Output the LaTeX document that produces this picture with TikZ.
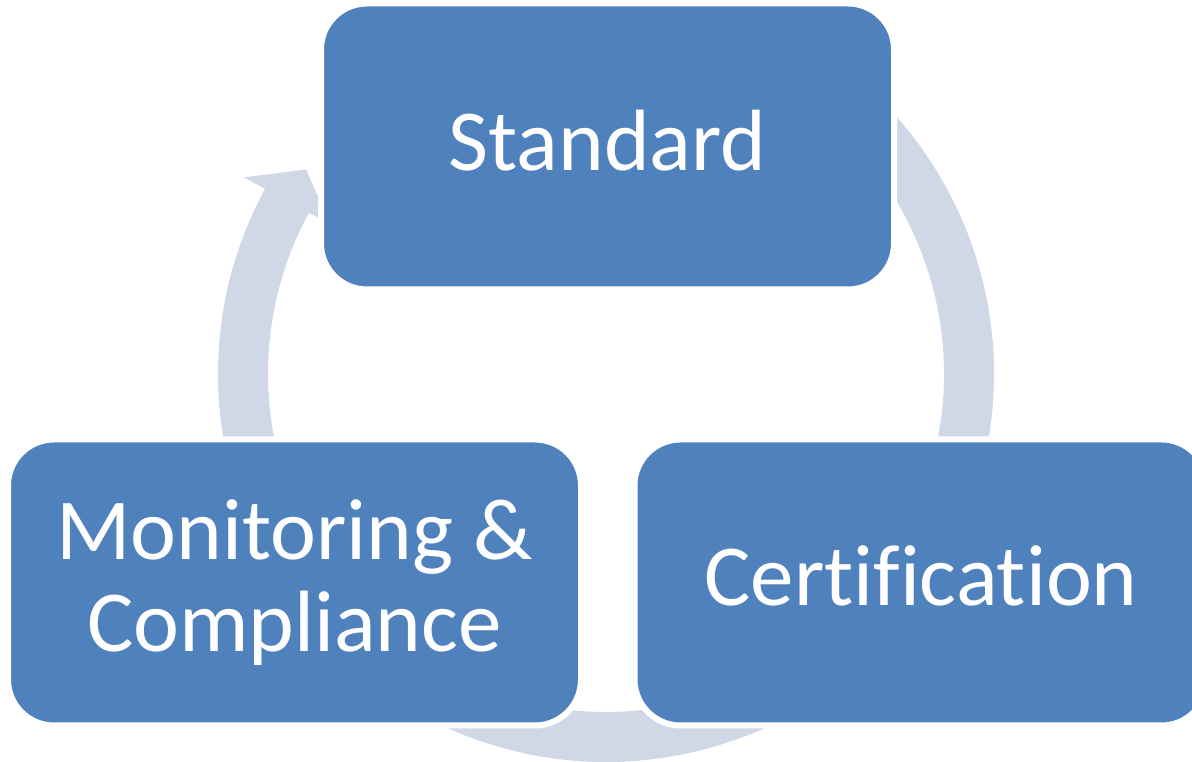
\documentclass[tikz,border=0pt]{standalone}
\usepackage{fontspec}
\setmainfont[Ligatures=NoCommon]{Carlito}
\definecolor{boxblue}{HTML}{4F81BD}
\definecolor{ringgray}{HTML}{D0D8E8}

\begin{document}
\begin{tikzpicture}[x=1pt,y=1pt,
    box/.style={draw=white,line width=6pt,fill=boxblue,rounded corners=46pt,
      minimum width=573pt,minimum height=286pt,inner sep=0pt,text=white,
      align=center,font=\fontsize{87}{92}\selectfont},
    oneline/.style={text depth=13pt}]
    \clip (0,0) rectangle (1192,762);
    \coordinate (hub) at (606,388);

    % ring arrows, behind the boxes
    \fill[ringgray,shift={(hub)}] (65:388) arc[start angle=65,end angle=-15,radius=388]
      -- (-15:412) -- (-20:363) -- (-15:314) -- (-15:338)
      arc[start angle=-15,end angle=65,radius=338] -- cycle;
    \fill[ringgray,shift={(hub)}] (-45:388) arc[start angle=-45,end angle=-155,radius=388]
      -- (-155:412) -- (-160:363) -- (-155:314) -- (-155:338)
      arc[start angle=-155,end angle=-45,radius=338] -- cycle;
    \fill[ringgray,shift={(hub)}] (235:388) arc[start angle=235,end angle=151.5,radius=388]
      -- (151.5:412) -- (145.7:363) -- (151.5:314) -- (151.5:338)
      arc[start angle=151.5,end angle=235,radius=338] -- cycle;

    \node[box,oneline](std)at(607.5,615.5){Standard};
    \node[box,oneline](cert)at(921,179.5){Certification};
    \node[box](mon)at(294.5,179.5){Monitoring \&\\Compliance};
\end{tikzpicture}
\end{document}
